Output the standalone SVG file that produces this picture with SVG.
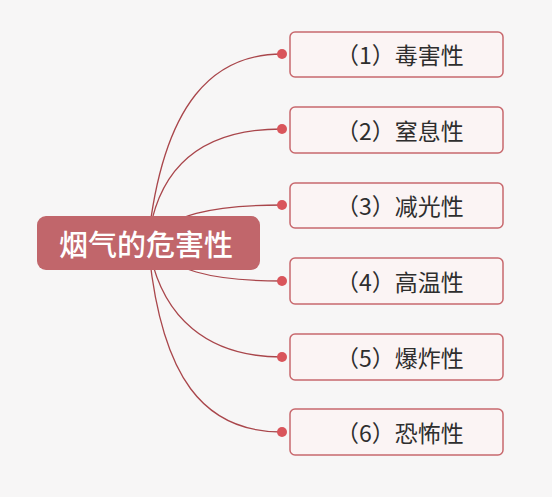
<svg xmlns="http://www.w3.org/2000/svg" width="552" height="497" viewBox="0 0 552 497">
<style>
.bg{fill:#f7f6f6}
.link{fill:none;stroke:#a9464b;stroke-width:1.3}
.dot{fill:#d9555b}
.box{fill:#fbf4f4;stroke:#c8686d;stroke-width:1.5}
.lbl{font-family:"Noto Sans CJK SC","Noto Sans",sans-serif;font-size:23px;fill:#2e2e2e;text-anchor:middle;dominant-baseline:central}
.root{fill:#c1666b}
.rootlbl{font-family:"Noto Sans CJK SC","Noto Sans",sans-serif;font-size:29px;font-weight:500;fill:#fff;text-anchor:middle;dominant-baseline:central}
</style>
<rect class="bg" x="0" y="0" width="552" height="497"/>
<g id="connectors">
<path class="link" d="M148,242 C163,100 215,54 282,54"/>
<path class="link" d="M148,242 C158,160 210,129 282,129"/>
<path class="link" d="M148,242 C170,215 210,205 282,205"/>
<path class="link" d="M148,242 C170,270 210,281 282,281"/>
<path class="link" d="M148,242 C160,320 210,357 282,357"/>
<path class="link" d="M148,242 C160,380 205,432 282,432"/>
<circle class="dot" cx="282" cy="54" r="5"/>
<circle class="dot" cx="282" cy="129" r="5"/>
<circle class="dot" cx="282" cy="205" r="5"/>
<circle class="dot" cx="282" cy="281" r="5"/>
<circle class="dot" cx="282" cy="357" r="5"/>
<circle class="dot" cx="282" cy="432" r="5"/>
</g>
<g id="root">
<rect class="root" x="37" y="216" width="223" height="54" rx="9"/>
<text class="rootlbl" x="146" y="243">烟气的危害性</text>
</g>
<g id="n1"><rect class="box" x="290" y="32" width="213" height="45" rx="5"/><text class="lbl" x="400" y="54">（1）毒害性</text></g>
<g id="n2"><rect class="box" x="290" y="107" width="213" height="46" rx="5"/><text class="lbl" x="400" y="130">（2）窒息性</text></g>
<g id="n3"><rect class="box" x="290" y="183" width="213" height="45" rx="5"/><text class="lbl" x="400" y="205">（3）减光性</text></g>
<g id="n4"><rect class="box" x="290" y="258" width="213" height="46" rx="5"/><text class="lbl" x="400" y="281">（4）高温性</text></g>
<g id="n5"><rect class="box" x="290" y="334" width="213" height="46" rx="5"/><text class="lbl" x="400" y="357">（5）爆炸性</text></g>
<g id="n6"><rect class="box" x="290" y="409" width="213" height="46" rx="5"/><text class="lbl" x="400" y="432">（6）恐怖性</text></g>
</svg>
